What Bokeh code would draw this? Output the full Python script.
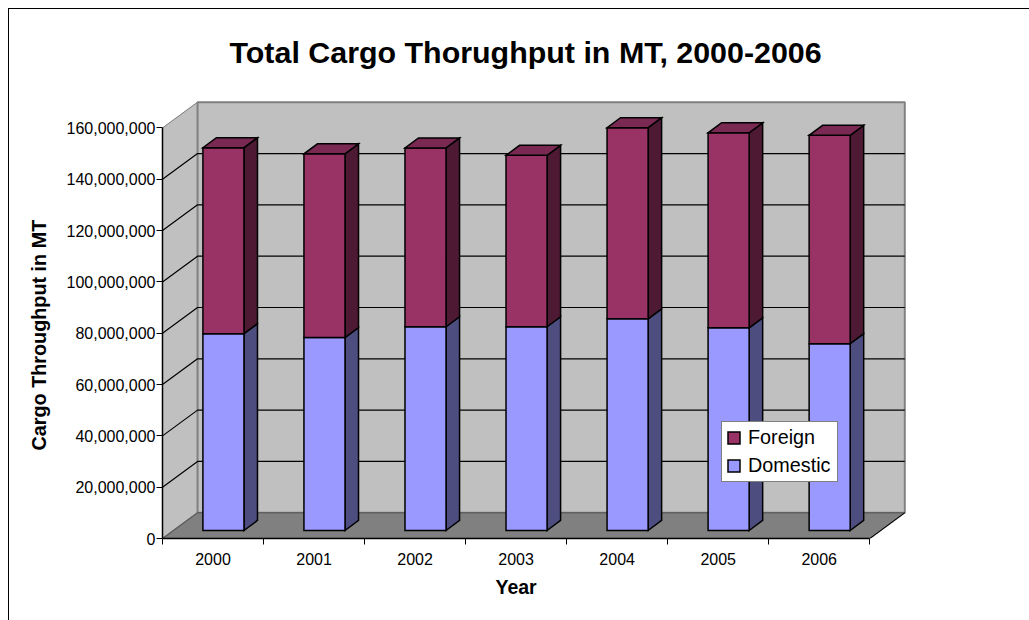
from bokeh.plotting import figure
from bokeh.embed import file_html
from bokeh.resources import INLINE
from bokeh.models import (FixedTicker, Range1d, Legend, LegendItem, Title,
                          NumeralTickFormatter)

# ---- data ----
years = ["2000", "2001", "2002", "2003", "2004", "2005", "2006"]
domestic = [76700000, 75200000, 79400000, 79400000, 82500000, 79000000, 72800000]
foreign = [72500000, 71600000, 69700000, 66800000, 74500000, 76000000, 81200000]
y_ticks = [0, 20000000, 40000000, 60000000, 80000000, 100000000, 120000000, 140000000, 160000000]
series_names = ["Foreign", "Domestic"]
title_text = "Total Cargo Thorughput in MT, 2000-2006"
x_title = "Year"
y_title = "Cargo Throughput in MT"

# ---- oblique projection, in data units ----
PX_X = 100.9            # pixels per category
PX_Y = 2.56e-6          # pixels per unit of value
WALL_DX, WALL_DY = 35 / PX_X, 25.7 / PX_Y
BAR_X0, BAR_W = 0.40, 41 / PX_X
BASE_Y = 8 / PX_Y
BAR_DX, BAR_DY = 13.5 / PX_X, 10 / PX_Y

n = len(years)
y_top = y_ticks[-1]
FONT = "Liberation Sans"

p = figure(width=1021, height=612, output_backend="svg", toolbar_location=None,
           x_range=Range1d(0, (912 - 163) / PX_X), y_range=Range1d(0, (537 - 93) / PX_Y),
           min_border_left=153, min_border_right=118, min_border_top=84, min_border_bottom=83,
           background_fill_color="white", border_fill_color="white", outline_line_color=None,
           title=None)
p.margin = (8, 0, 0, 8)
p.styles = {"border-top": "1px solid #000000", "border-left": "1px solid #000000",
            "box-sizing": "border-box"}
p.xgrid.visible = False
p.ygrid.visible = False

p.add_layout(Title(text=title_text, align="left", offset=67, vertical_align="middle",
                   text_font=FONT, text_font_size="30.4px", text_font_style="bold",
                   text_color="#000000", standoff=48), "above")

# walls and floor
p.patch([0, 0, WALL_DX, WALL_DX], [0, y_top, y_top + WALL_DY, WALL_DY],
        fill_color="#C0C0C0", line_color="#C0C0C0", line_width=1)
p.patch([WALL_DX, WALL_DX, WALL_DX + n, WALL_DX + n],
        [WALL_DY, y_top + WALL_DY, y_top + WALL_DY, WALL_DY],
        fill_color="#C0C0C0", line_color="#808080", line_width=2)
p.patch([0, n, n + WALL_DX, WALL_DX], [0, 0, WALL_DY, WALL_DY],
        fill_color="#808080", line_color="#606060", line_width=1.5)

# gridlines
grid_xs, grid_ys = [], []
for v in y_ticks[1:-1]:
    grid_xs.append([0, WALL_DX, WALL_DX + n])
    grid_ys.append([v, v + WALL_DY, v + WALL_DY])
p.multi_line(grid_xs, grid_ys, line_color="#000000", line_width=1.2)
p.line([0, WALL_DX], [y_top, y_top + WALL_DY], line_color="#808080", line_width=1)
p.line([WALL_DX + n, n], [WALL_DY, 0], line_color="#000000", line_width=1)
p.line([0, WALL_DX], [0, WALL_DY], line_color="#606060", line_width=1)


def faces(lows, highs):
    front_x, front_y, side_x, side_y, top_x, top_y = [], [], [], [], [], []
    for i, (lo, hi) in enumerate(zip(lows, highs)):
        x0 = i + BAR_X0
        x1 = x0 + BAR_W
        y0 = BASE_Y + lo
        y1 = BASE_Y + hi
        front_x.append([x0, x1, x1, x0])
        front_y.append([y0, y0, y1, y1])
        side_x.append([x1, x1 + BAR_DX, x1 + BAR_DX, x1])
        side_y.append([y0, y0 + BAR_DY, y1 + BAR_DY, y1])
        top_x.append([x0, x1, x1 + BAR_DX, x0 + BAR_DX])
        top_y.append([y1, y1, y1 + BAR_DY, y1 + BAR_DY])
    return front_x, front_y, side_x, side_y, top_x, top_y


totals = [d + f for d, f in zip(domestic, foreign)]
dfx, dfy, dsx, dsy, _, _ = faces([0] * n, domestic)
ffx, ffy, fsx, fsy, ftx, fty = faces(domestic, totals)
EDGE = dict(line_color="#000000", line_width=1.5, line_join="miter")
p.patches(dsx, dsy, fill_color="#4D4D80", **EDGE)
r_dom = p.patches(dfx, dfy, fill_color="#9999FF", **EDGE)
p.patches(fsx, fsy, fill_color="#4D1933", **EDGE)
r_for = p.patches(ffx, ffy, fill_color="#993366", **EDGE)
p.patches(ftx, fty, fill_color="#7A2952", **EDGE)

# axes
xa = p.xaxis[0]
xa.ticker = FixedTicker(ticks=[i + 0.5 for i in range(n)], minor_ticks=list(range(n + 1)))
xa.major_label_overrides = {i + 0.5: years[i] for i in range(n)}
xa.bounds = (0, n)
xa.major_tick_in = 0
xa.major_tick_out = 0
xa.minor_tick_in = 0
xa.minor_tick_out = 6
xa.major_label_standoff = 8
ya = p.yaxis[0]
ya.ticker = FixedTicker(ticks=y_ticks, minor_ticks=[])
ya.formatter = NumeralTickFormatter(format="0,0")
ya.bounds = (0, y_top)
ya.major_tick_in = 0
ya.major_tick_out = 6
ya.minor_tick_out = 0
ya.minor_tick_in = 0
ya.major_label_standoff = 1
for a in (xa, ya):
    a.axis_line_color = "#000000"
    a.axis_line_width = 1.5
    a.major_tick_line_color = "#000000"
    a.minor_tick_line_color = "#000000"
    a.major_label_text_font = FONT
    a.major_label_text_font_size = "16px"
    a.major_label_text_color = "#000000"

# axis titles: placed off-centre in the frame, as in the original
p.add_layout(Title(text=x_title, align="left", offset=333, text_font=FONT,
                   text_font_size="19.5px", text_font_style="bold", text_color="#000000",
                   standoff=13), "below")
p.add_layout(Title(text=y_title, align="left", offset=88, text_font=FONT,
                   text_font_size="19.8px", text_font_style="bold", text_color="#000000",
                   standoff=27), "left")

# legend
legend = Legend(items=[LegendItem(label=series_names[0], renderers=[r_for]),
                       LegendItem(label=series_names[1], renderers=[r_dom])],
                location=(559, 56), orientation="vertical",
                background_fill_color="#FFFFFF", background_fill_alpha=1,
                border_line_color="#000000", border_line_width=1,
                label_text_font=FONT, label_text_font_size="19.8px", label_text_color="#000000",
                glyph_width=15, glyph_height=15, label_standoff=7, spacing=5,
                padding=4, margin=0, label_height=20, label_width=85)
p.add_layout(legend, "center")

open("out.html", "w").write(file_html(p, INLINE))
